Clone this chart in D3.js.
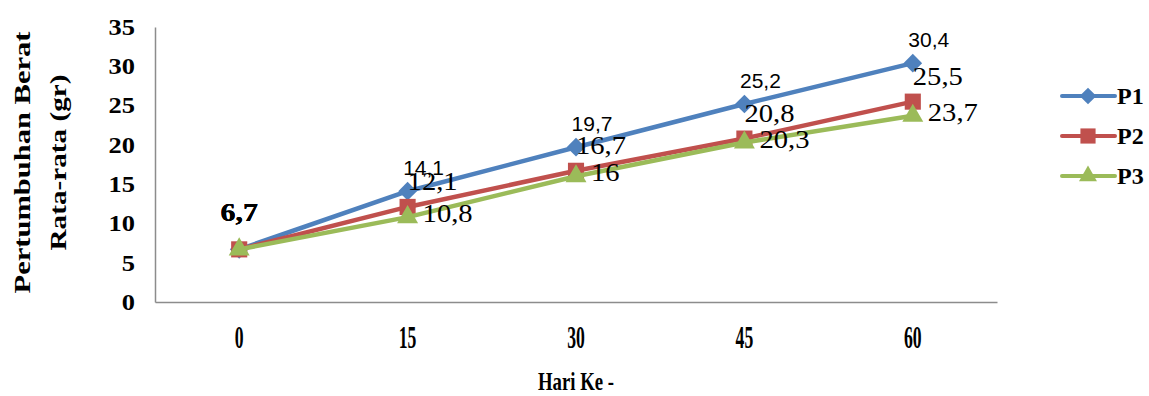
<!DOCTYPE html>
<html>
<head>
<meta charset="utf-8">
<script src="https://cdn.jsdelivr.net/npm/d3@7"></script>
<style>
  body { margin: 0; background: #fff; }
  text { font-family: "Liberation Serif", Tinos, "Times New Roman", "DejaVu Serif", serif; fill: #000; }
</style>
</head>
<body>
<svg id="chart" width="1149" height="396"></svg>
<script>
// data
const days = ["0", "15", "30", "45", "60"];
const seriesNames = ["P1", "P2", "P3"];
const p1 = [6.7, 14.1, 19.7, 25.2, 30.4];
const p2 = [6.7, 12.1, 16.7, 20.8, 25.5];
const p3 = [6.7, 10.8, 16, 20.3, 23.7];
const yTicks = [0, 5, 10, 15, 20, 25, 30, 35];

const series = [
  {name: seriesNames[0], values: p1},
  {name: seriesNames[1], values: p2},
  {name: seriesNames[2], values: p3}
];

let margin = {top: 27, right: 152, bottom: 94, left: 155},
    width = 1149 - margin.left - margin.right,
    height = 396 - margin.top - margin.bottom;

const serif = "'Liberation Serif', Tinos, 'Times New Roman', 'DejaVu Serif', serif";

const color = d3.scaleOrdinal().domain(seriesNames)
  .range(["#4f81bd", "#c0504d", "#9bbb59"]);

const fmt = v => String(v).replace(".", ",");

let svg = d3.select("#chart")
  .append("g")
  .attr("transform", "translate(" + margin.left + "," + margin.top + ")");

let x = d3.scaleBand().domain(days).range([0, width]);
let y = d3.scaleLinear().domain([0, 35]).range([height, 0]);
const cx = d => x(d) + x.bandwidth() / 2;

// axes
let yAxis = d3.axisLeft(y).tickValues(yTicks).tickSize(0).tickPadding(17.5);
let xAxis = d3.axisBottom(x).tickSize(0).tickPadding(24);

let gy = svg.append("g").attr("class", "y axis").call(yAxis).attr("font-family", serif);
gy.select(".domain").attr("stroke", "#8c8c8c").attr("stroke-width", 1.5);
gy.selectAll("text")
  .style("font-size", "23px")
  .style("font-weight", "bold")
  .attr("transform", "scale(1.15,1)");

let gx = svg.append("g").attr("class", "x axis")
  .attr("transform", "translate(0," + height + ")")
  .call(xAxis)
  .attr("font-family", serif);
gx.select(".domain").attr("stroke", "#8c8c8c").attr("stroke-width", 1.5);
gx.selectAll("text")
  .style("font-size", "31px")
  .style("font-weight", "bold")
  .attr("transform", "scale(0.57,1)");

// axis titles
svg.append("text")
  .attr("transform", "translate(" + (width / 2) + "," + (height + 88) + ") scale(0.75,1)")
  .style("text-anchor", "middle")
  .style("font-size", "25px")
  .style("font-weight", "bold")
  .text("Hari Ke -");

let yTitle = svg.append("text")
  .attr("transform", "translate(" + (-margin.left + 30) + "," + (height / 2 - 2) + ") rotate(-90)")
  .style("text-anchor", "middle")
  .style("font-size", "24px")
  .style("font-weight", "bold");
yTitle.append("tspan").attr("x", 0).attr("dy", 0)
  .attr("textLength", 262).attr("lengthAdjust", "spacingAndGlyphs")
  .text("Pertumbuhan Berat");
yTitle.append("tspan").attr("x", 0).attr("dy", 36)
  .attr("textLength", 176).attr("lengthAdjust", "spacingAndGlyphs")
  .text("Rata-rata (gr)");

// lines
let line = d3.line()
  .x((d, i) => cx(days[i]))
  .y(d => y(d));

const symbolOf = {
  P1: d3.symbol().type(d3.symbolSquare).size(175),
  P2: d3.symbol().type(d3.symbolSquare).size(260),
  P3: d3.symbol().type(d3.symbolTriangle).size(190)
};
const rotOf = {P1: 45, P2: 0, P3: 0};

let slice = svg.selectAll(".series")
  .data(series)
  .enter().append("g")
  .attr("class", "series");

slice.append("path")
  .attr("d", d => line(d.values))
  .attr("fill", "none")
  .attr("stroke", d => color(d.name))
  .attr("stroke-width", 4.5)
  .attr("stroke-linejoin", "round");

slice.selectAll(".mark")
  .data(d => d.values.map((v, i) => ({name: d.name, v: v, day: days[i]})))
  .enter().append("path")
  .attr("class", "mark")
  .attr("d", d => symbolOf[d.name]())
  .attr("fill", d => color(d.name))
  .attr("transform", d => "translate(" + cx(d.day) + "," + y(d.v) + ") rotate(" + rotOf[d.name] + ")");

// data labels
const labelStyle = {
  P1: {dx: 16, dy: -16, anchor: "middle", font: "'Liberation Sans', Arimo, sans-serif", size: 21, sx: 1},
  P2: {dx: 0, dy: -17, anchor: "start", font: serif, size: 26, sx: 1.1},
  P3: {dx: 15, dy: 5, anchor: "start", font: serif, size: 26, sx: 1.1}
};

slice.selectAll(".lbl")
  .data(d => d.values.map((v, i) => ({name: d.name, v: v, day: days[i], i: i})))
  .enter().append("text")
  .attr("class", "lbl")
  .attr("transform", d => {
    let s = labelStyle[d.name];
    if (d.i === 0) return "translate(" + cx(d.day) + "," + (y(d.v) - 28) + ") scale(1.15,1)";
    return "translate(" + (cx(d.day) + s.dx) + "," + (y(d.v) + s.dy) + ") scale(" + s.sx + ",1)";
  })
  .style("text-anchor", d => d.i === 0 ? "middle" : labelStyle[d.name].anchor)
  .style("font-family", d => d.i === 0 ? serif : labelStyle[d.name].font)
  .style("font-weight", d => d.i === 0 ? "bold" : "normal")
  .style("font-size", d => (d.i === 0 ? 26 : labelStyle[d.name].size) + "px")
  .text(d => fmt(d.v));

// legend
let legend = svg.selectAll(".legend")
  .data(seriesNames)
  .enter().append("g")
  .attr("class", "legend")
  .attr("transform", (d, i) => "translate(" + (width + 65) + "," + (69 + i * 40) + ")");

legend.append("line")
  .attr("x1", 0).attr("x2", 53)
  .attr("stroke", d => color(d))
  .attr("stroke-width", 4)
  .attr("stroke-linecap", "round");

legend.append("path")
  .attr("d", d => d3.symbol().type(d === "P3" ? d3.symbolTriangle : d3.symbolSquare).size(d === "P2" ? 230 : 140)())
  .attr("fill", d => color(d))
  .attr("transform", d => "translate(26,0) rotate(" + rotOf[d] + ")");

legend.append("text")
  .attr("x", 55)
  .attr("y", 8)
  .style("font-size", "24px")
  .style("font-weight", "bold")
  .text(d => d);
</script>
</body>
</html>
